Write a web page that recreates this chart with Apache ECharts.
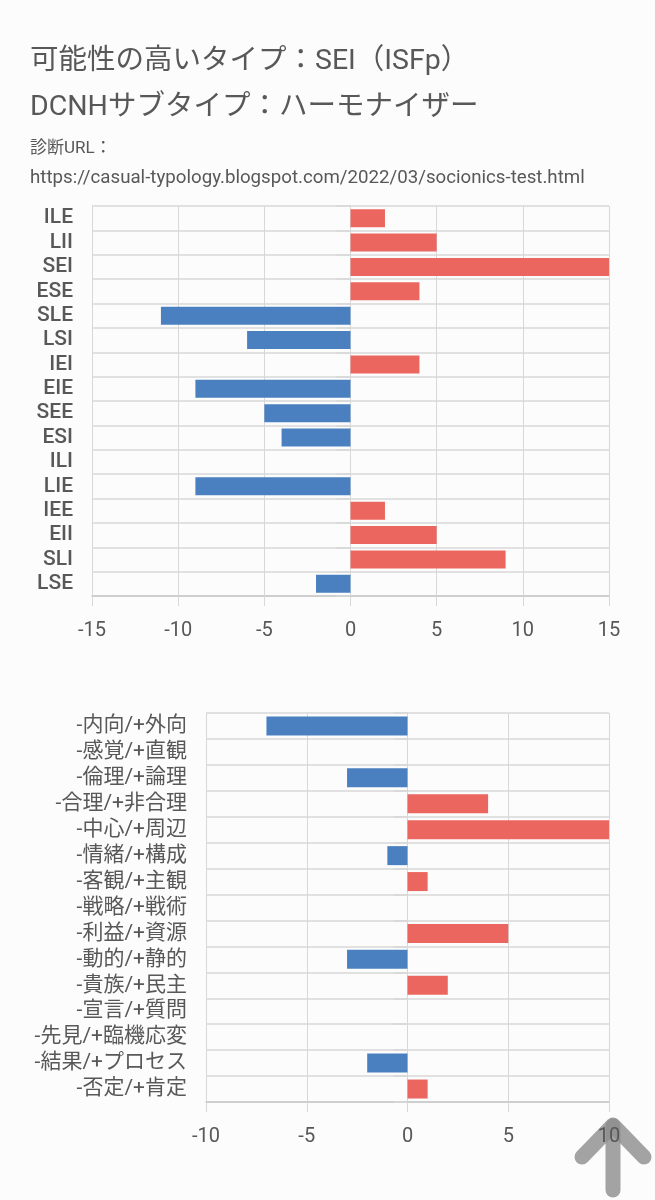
<!DOCTYPE html>
<html>
<head>
<meta charset="utf-8">
<script src="https://cdn.jsdelivr.net/npm/echarts@6/dist/echarts.min.js"></script>
<style>
  html, body { margin: 0; padding: 0; background: #fcfcfc; }
  #chart { width: 655px; height: 1200px; }
</style>
</head>
<body>
<div id="chart"></div>
<script>
const typeNames = ['ILE', 'LII', 'SEI', 'ESE', 'SLE', 'LSI', 'IEI', 'EIE', 'SEE', 'ESI', 'ILI', 'LIE', 'IEE', 'EII', 'SLI', 'LSE'];
const typeScores = [2, 5, 15, 4, -11, -6, 4, -9, -5, -4, 0, -9, 2, 5, 9, -2];

const traitNames = ['-内向/+外向', '-感覚/+直観', '-倫理/+論理', '-合理/+非合理', '-中心/+周辺', '-情緒/+構成', '-客観/+主観', '-戦略/+戦術', '-利益/+資源', '-動的/+静的', '-貴族/+民主', '-宣言/+質問', '-先見/+臨機応変', '-結果/+プロセス', '-否定/+肯定'];
const traitScores = [-7, 0, -3, 4, 10, -1, 1, 0, 5, -3, 2, 0, 0, -2, 1];

const typeTicks = [-15, 15, 5];
const traitTicks = [-10, 10, 5];

const colors = { pos: '#ec6660', neg: '#4a80bf', text: '#585858', grid: '#d8d8d8' };
const font = "Roboto, 'Noto Sans CJK JP', sans-serif";

function barColor(params) {
    return params.value >= 0 ? colors.pos : colors.neg;
}

function valueAxis(gridIndex, ticks) {
    return {
        type: 'value',
        gridIndex: gridIndex,
        min: ticks[0],
        max: ticks[1],
        interval: ticks[2],
        axisLine: { show: true, lineStyle: { color: '#c8c8c8', width: 1.5 } },
        axisTick: { show: true, length: 10, lineStyle: { color: colors.grid } },
        splitLine: { show: true, lineStyle: { color: colors.grid } },
        axisLabel: { color: colors.text, fontSize: 20, fontFamily: font, margin: 25 }
    };
}

function categoryAxis(gridIndex, names, size, weight) {
    return {
        type: 'category',
        gridIndex: gridIndex,
        data: names,
        inverse: true,
        axisLine: { show: true, lineStyle: { color: colors.grid } },
        axisTick: { show: true, interval: 0, length: 14, lineStyle: { color: colors.grid, width: 1.5 } },
        splitLine: { show: true, interval: 0, lineStyle: { color: colors.grid, width: 1.5 } },
        axisLabel: { interval: 0, color: colors.text, fontSize: size, fontFamily: font, fontWeight: weight, margin: 19 }
    };
}

const chart = echarts.init(document.getElementById('chart'));

chart.setOption({
    backgroundColor: '#fcfcfc',
    animation: false,
    title: [
        { text: '可能性の高いタイプ：SEI（ISFp）', left: 25, top: 43, textStyle: { color: colors.text, fontSize: 28.5, fontWeight: 'normal', fontFamily: font } },
        { text: 'DCNHサブタイプ：ハーモナイザー', left: 25, top: 89, textStyle: { color: colors.text, fontSize: 28.5, fontWeight: 'normal', fontFamily: font } },
        { text: '診断URL：', left: 25, top: 135, textStyle: { color: colors.text, fontSize: 17, fontWeight: 'normal', fontFamily: font } },
        { text: 'https://casual-typology.blogspot.com/2022/03/socionics-test.html', left: 25, top: 164, textStyle: { color: colors.text, fontSize: 18.7, fontWeight: 'normal', fontFamily: font } }
    ],
    grid: [
        { left: 92, right: 46, top: 206, height: 390 },
        { left: 206, right: 46, top: 713, height: 389 }
    ],
    xAxis: [valueAxis(0, typeTicks), valueAxis(1, traitTicks)],
    yAxis: [categoryAxis(0, typeNames, 21, 500), categoryAxis(1, traitNames, 21, 'normal')],
    series: [
        {
            type: 'bar',
            xAxisIndex: 0,
            yAxisIndex: 0,
            data: typeScores,
            barWidth: 18,
            itemStyle: { color: barColor }
        },
        {
            type: 'bar',
            xAxisIndex: 1,
            yAxisIndex: 1,
            data: traitScores,
            barWidth: 19,
            itemStyle: { color: barColor }
        }
    ],
    graphic: [
        {
            type: 'group',
            z: 100,
            children: [
                { type: 'polyline', shape: { points: [[613, 1190], [613, 1126]] }, style: { stroke: 'rgba(140,140,140,0.8)', lineWidth: 15, lineCap: 'round', lineJoin: 'round' } },
                { type: 'polyline', shape: { points: [[582, 1157], [613, 1125], [644, 1157]] }, style: { stroke: 'rgba(140,140,140,0.8)', fill: null, lineWidth: 15, lineCap: 'round', lineJoin: 'round' } }
            ]
        }
    ]
});
</script>
</body>
</html>
